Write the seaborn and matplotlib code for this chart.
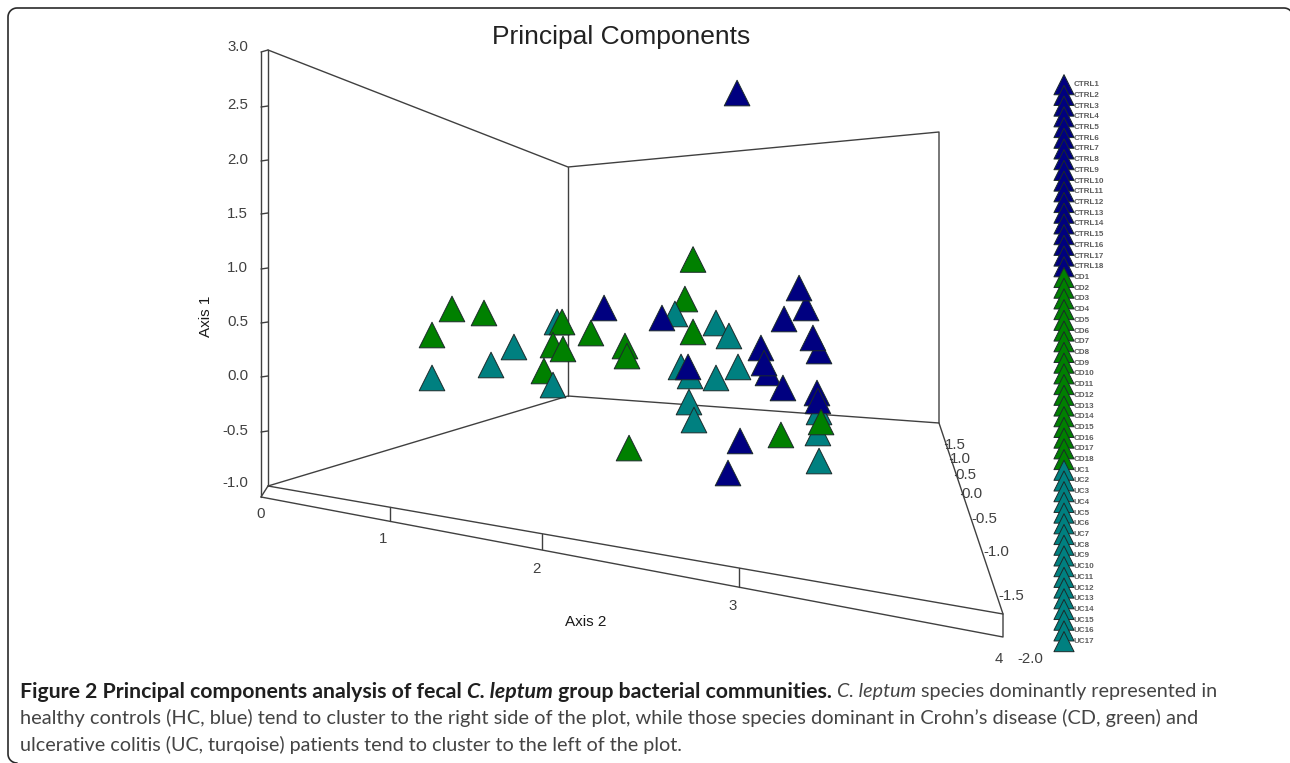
import numpy as np
import pandas as pd
import seaborn as sns
import matplotlib.pyplot as plt

# Points, in projected axis units
# order inside a group is the drawing order
cd_x = [2.286, 1.524, 2.330, 1.027, 1.200, 0.919, 1.622, 1.573, 1.627, 1.778, 1.962, 1.973, 2.330, 1.984, 2.805, 3.022]
cd_y = [0.706, 0.046, 1.069, 0.615, 0.578, 0.376, 0.495, 0.284, 0.248, 0.394, 0.275, 0.183, 0.404, -0.661, -0.541, -0.422]
cd_layer = [0, 0, 3, 3, 3, 3, 3, 3, 3, 3, 3, 3, 3, 3, 3, 3]

uc_x = [1.595, 2.232, 2.454, 2.524, 1.362, 1.238, 0.919, 1.573, 2.265, 2.314, 2.454, 2.573, 2.308, 2.335, 3.011, 3.005, 3.011]
uc_y = [0.495, 0.569, 0.486, 0.367, 0.266, 0.101, -0.018, -0.083, 0.083, 0.0, -0.018, 0.083, -0.239, -0.404, -0.330, -0.523, -0.780]

hc_x = [1.849, 2.162, 2.941, 2.903, 2.822, 3.011, 2.978, 2.303, 2.697, 2.735, 2.714, 2.816, 3.000, 3.005, 2.584, 2.519, 2.568]
hc_y = [0.624, 0.532, 0.624, 0.807, 0.523, 0.229, 0.349, 0.083, 0.257, 0.028, 0.119, -0.110, -0.156, -0.229, -0.596, -0.890, 2.596]

axis1_ticks = ['3.0', '2.5', '2.0', '1.5', '1.0', '0.5', '0.0', '-0.5', '-1.0']
axis2_ticks = ['0', '1', '2', '3', '4']
axis3_ticks = ['1.5', '1.0', '0.5', '0.0', '-0.5', '-1.0', '-1.5', '-2.0']

legend_names = [f'CTRL{i}' for i in range(1, 19)] + [f'CD{i}' for i in range(1, 19)] + [f'UC{i}' for i in range(1, 18)]
legend_groups = ['HC'] * 18 + ['CD'] * 18 + ['UC'] * 17

colors = {'HC': '#000080', 'CD': '#008000', 'UC': '#008080'}

sns.set_theme(style='white')
plt.rcParams['font.family'] = ['Liberation Sans', 'DejaVu Sans']

W, H = 1290, 763
fig = plt.figure(figsize=(W / 100, H / 100), dpi=100)

# frame axes in picture pixels for the box, text and key
frame = fig.add_axes([0, 0, 1, 1])
frame.set_xlim(0, W)
frame.set_ylim(H, 0)
frame.axis('off')

# data axes on top, same extent
ax = fig.add_axes([0, 0, 1, 1])
ax.patch.set_alpha(0)
ax.axis('off')

line_c = '#404040'
text_c = '#404040'


def seg(xs, ys, lw=1.0):
    frame.plot(xs, ys, color=line_c, lw=lw, solid_capstyle='round')


# the 3D box
seg([261, 261], [52, 497])
seg([268, 268], [50, 486])
seg([261, 268], [52, 50])
seg([268, 568, 939, 939, 568, 268], [50, 167, 132, 423, 396, 486])
seg([568, 568], [167, 396])
seg([261, 268], [497, 486])
seg([268, 1003, 1003, 261], [486, 614, 637, 497])
seg([939, 1003], [423, 614])
for ty in [106, 160, 213, 268, 322, 376, 431]:
    seg([261, 268], [ty + 1, ty])
for tx, y0, y1 in [(390, 507, 521), (542, 534, 549), (739, 568, 587)]:
    seg([tx, tx], [y0, y1])
for tx, ty in [(945, 444), (950, 459), (955, 475), (961, 494)]:
    seg([tx, tx + 1.5], [ty, ty])

# outer border with rounded corners, right and bottom sides run off the picture
r = 9
a = np.linspace(0, np.pi / 2, 12)
border_x = np.concatenate([17 - r * np.cos(a[::-1]), 17 - r * np.cos(a), 1284 + r * np.sin(a)])
border_y = np.concatenate([754 + r * np.sin(a[::-1]), 17 - r * np.sin(a), 17 - r * np.cos(a)])
frame.plot(border_x, border_y, color='#2b2b2b', lw=1.2)

# scatter
df = pd.concat([
    pd.DataFrame({'x': cd_x, 'y': cd_y, 'group': 'CD', 'layer': cd_layer}),
    pd.DataFrame({'x': uc_x, 'y': uc_y, 'group': 'UC', 'layer': 1}),
    pd.DataFrame({'x': hc_x, 'y': hc_y, 'group': 'HC', 'layer': 2}),
]).sort_values('layer', kind='stable')
sns.scatterplot(data=df, x='x', y='y', hue='group', palette=colors, marker='^', s=340,
                edgecolor='#1c2a2a', linewidth=0.7, legend=False, ax=ax)
ax.set_xlim(-262 / 185, (W - 262) / 185)
ax.set_ylim((376 - H) / 109, 376 / 109)

# key column on the right
key = pd.DataFrame({'x': 1064.0, 'y': 84.7 + 10.71 * np.arange(len(legend_names)), 'group': legend_groups})
sns.scatterplot(data=key, x='x', y='y', hue='group', palette=colors, marker='^', s=210,
                edgecolor='#1c2a2a', linewidth=0.7, legend=False, ax=frame)
frame.set_xlim(0, W)
frame.set_ylim(H, 0)
for name, ky in zip(legend_names, key['y']):
    frame.text(1074, ky, name, fontsize=5.8, color=text_c, ha='left', va='center', fontweight='bold', alpha=0.85)

# tick labels
for lab, ty in zip(axis1_ticks, [47, 105, 160, 214, 268, 322, 376, 431, 483]):
    frame.text(248, ty, lab, fontsize=10.8, color=text_c, ha='right', va='center')
for lab, tx, ty in zip(axis2_ticks, [261, 383, 536, 733, 999], [514, 539, 569, 606, 659]):
    frame.text(tx, ty, lab, fontsize=10.8, color=text_c, ha='center', va='center')
for lab, tx, ty in zip(axis3_ticks, [945, 950, 955, 961, 971, 983, 998, 1017],
                       [445, 459, 475, 494, 519, 552, 596, 659]):
    frame.text(tx, ty, lab, fontsize=10.8, color=text_c, ha='left', va='center')

frame.text(621, 37, 'Principal Components', fontsize=19, color='#222222', ha='center', va='center')
frame.text(586, 622, 'Axis 2', fontsize=11, color='#1a1a1a', ha='center', va='center')
frame.text(206, 316, 'Axis 1', fontsize=11, color='#1a1a1a', ha='center', va='center', rotation=90)

# caption, written run by run
cap_font = ['Lato', 'DejaVu Sans']
renderer = fig.canvas.get_renderer()


def runs(x, y, parts):
    for txt, weight, style, size in parts:
        label = fig.text(x / W, 1 - y / H, txt, fontsize=size, family=cap_font, fontweight=weight, fontstyle=style,
                         color='#1f1f1f' if weight == 'bold' else '#444444', ha='left', va='center')
        # trailing space is not in the extent, so measure with a stop character
        label.set_text(txt + '|')
        w1 = label.get_window_extent(renderer).width
        label.set_text('|')
        w2 = label.get_window_extent(renderer).width
        label.set_text(txt)
        x += w1 - w2


runs(20, 692, [('Figure 2 Principal components analysis of fecal ', 'bold', 'normal', 15.3),
               ('C. leptum', 'bold', 'italic', 15.3),
               (' group bacterial communities. ', 'bold', 'normal', 15.3),
               ('C. leptum', 'normal', 'italic', 14.25),
               (' species dominantly represented in', 'normal', 'normal', 14.25)])
runs(20, 718, [('healthy controls (HC, blue) tend to cluster to the right side of the plot, while those species dominant in Crohn\u2019s disease (CD, green) and', 'normal', 'normal', 14.37)])
runs(20, 745, [('ulcerative colitis (UC, turqoise) patients tend to cluster to the left of the plot.', 'normal', 'normal', 14.25)])

fig.savefig('out.png', dpi=100)
